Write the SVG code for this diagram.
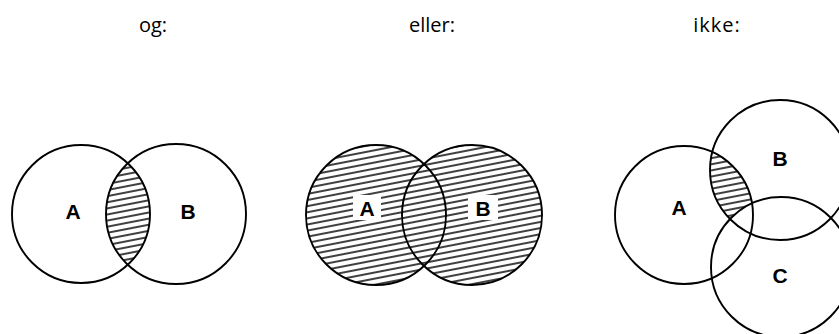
<svg xmlns="http://www.w3.org/2000/svg" width="839" height="334" viewBox="0 0 839 334">
<style>
.t{font-family:"Open Sans","Liberation Sans",sans-serif;font-size:20px;fill:#000;text-anchor:middle}
.l{font-family:"Liberation Sans",Arial,sans-serif;font-size:21px;font-weight:bold;fill:#000;text-anchor:middle}
.c{fill:none;stroke:#000;stroke-width:1.9}
</style>
<defs>
<pattern id="hatch" width="12" height="6" patternUnits="userSpaceOnUse" patternTransform="rotate(-11)">
<rect width="12" height="6" fill="#fff"/>
<line x1="0" y1="3" x2="12" y2="3" stroke="#000" stroke-width="1.5"/>
</pattern>
<clipPath id="c1a"><circle cx="81" cy="214" r="69"/></clipPath>
<clipPath id="c1b"><circle cx="176" cy="214" r="70"/></clipPath>
<clipPath id="c3b"><circle cx="780" cy="170" r="70"/></clipPath>
<mask id="m3">
<rect x="600" y="80" width="239" height="254" fill="#000"/>
<circle cx="684" cy="215" r="69" fill="#fff" clip-path="url(#c3b)"/>
<circle cx="781" cy="267" r="70" fill="#000"/>
</mask>
</defs>
<g id="titles">
<text class="t" x="153" y="32">og:</text>
<text class="t" x="432" y="32">eller:</text>
<text class="t" x="717" y="32" letter-spacing="1">ikke:</text>
</g>
<g id="og">
<g clip-path="url(#c1a)"><rect x="100" y="140" width="60" height="150" fill="url(#hatch)" clip-path="url(#c1b)"/></g>
<circle class="c" cx="81" cy="214" r="69"/>
<circle class="c" cx="176" cy="214" r="70"/>
<text class="l" x="73" y="219">A</text>
<text class="l" x="188" y="219">B</text>
</g>
<g id="eller">
<circle cx="376" cy="215" r="70" fill="url(#hatch)"/>
<circle cx="472" cy="215" r="70" fill="url(#hatch)"/>
<rect x="353" y="195" width="28" height="25" fill="#fff"/>
<rect x="468" y="195" width="30" height="25" fill="#fff"/>
<circle class="c" cx="376" cy="215" r="70"/>
<circle class="c" cx="472" cy="215" r="70"/>
<text class="l" x="367" y="216">A</text>
<text class="l" x="483" y="216">B</text>
</g>
<g id="ikke">
<rect x="700" y="140" width="80" height="110" fill="url(#hatch)" mask="url(#m3)"/>
<circle class="c" cx="684" cy="215" r="69"/>
<circle class="c" cx="780" cy="170" r="70"/>
<circle class="c" cx="781" cy="267" r="70"/>
<text class="l" x="679" y="215">A</text>
<text class="l" x="780" y="166">B</text>
<text class="l" x="780" y="283">C</text>
</g>
</svg>
